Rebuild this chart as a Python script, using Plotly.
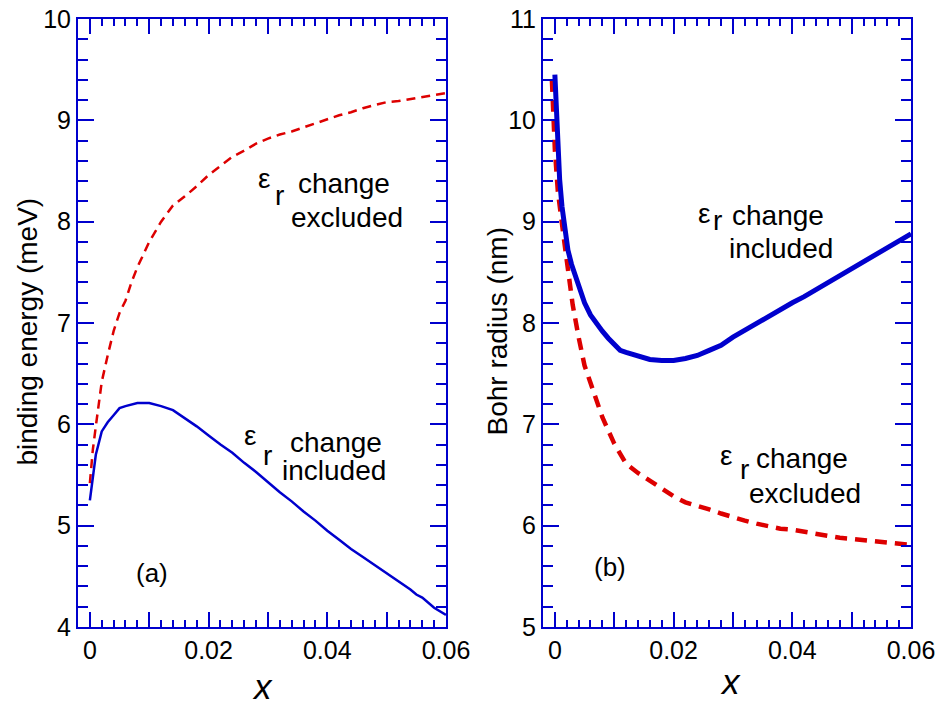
import plotly.graph_objects as go

# ---------------- data ----------------
# panel (a): binding energy (meV) vs x
a_incl_x = [0, 0.001, 0.002, 0.003, 0.004, 0.005, 0.006, 0.008, 0.010, 0.012, 0.014,
            0.016, 0.018, 0.020, 0.022, 0.024, 0.026, 0.028, 0.030, 0.032, 0.034,
            0.036, 0.038, 0.040, 0.042, 0.044, 0.046, 0.048, 0.050, 0.052, 0.054,
            0.055, 0.056, 0.058, 0.060]
a_incl_y = [5.25, 5.70, 5.93, 6.02, 6.09, 6.16, 6.18, 6.21, 6.21, 6.18, 6.14,
            6.06, 5.98, 5.89, 5.80, 5.72, 5.62, 5.53, 5.43, 5.33, 5.24,
            5.14, 5.05, 4.95, 4.86, 4.77, 4.69, 4.61, 4.53, 4.45, 4.37,
            4.32, 4.29, 4.19, 4.12]

a_excl_x = [0, 0.0005, 0.001, 0.002, 0.003, 0.004, 0.005, 0.006, 0.007, 0.008,
            0.010, 0.012, 0.014, 0.016, 0.018, 0.020, 0.022, 0.024, 0.026, 0.028,
            0.030, 0.032, 0.034, 0.036, 0.038, 0.040, 0.042, 0.044, 0.046, 0.048,
            0.050, 0.052, 0.054, 0.056, 0.058, 0.060]
a_excl_y = [5.42, 5.75, 5.98, 6.42, 6.68, 6.92, 7.10, 7.22, 7.40, 7.55,
            7.80, 8.00, 8.16, 8.25, 8.35, 8.46, 8.55, 8.64, 8.70, 8.77,
            8.82, 8.86, 8.89, 8.93, 8.97, 9.01, 9.05, 9.08, 9.12, 9.15,
            9.18, 9.19, 9.21, 9.23, 9.25, 9.27]

# panel (b): Bohr radius (nm) vs x
b_incl_x = [0, 0.0004, 0.0008, 0.0012, 0.0017, 0.0022, 0.0028, 0.0035, 0.004, 0.005,
            0.006, 0.007, 0.008, 0.009, 0.010, 0.011, 0.012, 0.014, 0.016, 0.018,
            0.020, 0.022, 0.024, 0.026, 0.028, 0.030, 0.032, 0.034, 0.036, 0.038,
            0.040, 0.042, 0.044, 0.046, 0.048, 0.050, 0.052, 0.054, 0.056, 0.058, 0.060]
b_incl_y = [10.45, 9.87, 9.42, 9.15, 8.89, 8.72, 8.58, 8.47, 8.38, 8.20,
            8.08, 7.99, 7.92, 7.85, 7.79, 7.73, 7.71, 7.67, 7.64, 7.63,
            7.63, 7.65, 7.68, 7.73, 7.78, 7.86, 7.93, 8.00, 8.07, 8.13,
            8.20, 8.26, 8.33, 8.40, 8.47, 8.53, 8.61, 8.67, 8.75, 8.81, 8.88]

b_excl_x = [-0.0005, 0, 0.0005, 0.001, 0.0015, 0.002, 0.003, 0.004, 0.005, 0.006,
            0.008, 0.010, 0.012, 0.014, 0.016, 0.018, 0.020, 0.022, 0.024, 0.026,
            0.028, 0.030, 0.032, 0.034, 0.036, 0.038, 0.040, 0.042, 0.044, 0.046,
            0.048, 0.050, 0.052, 0.054, 0.056, 0.058, 0.060]
b_excl_y = [10.40, 9.71, 9.30, 9.02, 8.84, 8.62, 8.18, 7.86, 7.58, 7.41,
            7.07, 6.81, 6.61, 6.52, 6.44, 6.36, 6.29, 6.23, 6.20, 6.16,
            6.12, 6.08, 6.05, 6.02, 5.99, 5.97, 5.96, 5.94, 5.91, 5.89,
            5.88, 5.87, 5.86, 5.85, 5.83, 5.82, 5.81]

x_tickvals = [0, 0.01, 0.02, 0.03, 0.04, 0.05, 0.06]
x_ticktext = ["0", "", "0.02", "", "0.04", "", "0.06"]
a_yticks = [4, 5, 6, 7, 8, 9, 10]
b_yticks = [5, 6, 7, 8, 9, 10, 11]

# ---------------- style ----------------
BLUE = "rgb(0,0,205)"
RED = "rgb(221,0,0)"
FONT = "Liberation Sans, Arial, Helvetica, sans-serif"
W, H = 940, 706
TOP, BOT = 19, 627  # plot area in pixels


def px(x):
    return x / W


def py(y):
    return (BOT - y) / (BOT - TOP)


fig = go.Figure()
fig.add_trace(go.Scatter(x=a_excl_x, y=a_excl_y, mode="lines", showlegend=False,
                         line=dict(color=RED, width=2.5, dash="9px,6px"),
                         xaxis="x", yaxis="y"))
fig.add_trace(go.Scatter(x=a_incl_x, y=a_incl_y, mode="lines", showlegend=False,
                         line=dict(color=BLUE, width=2.5), xaxis="x", yaxis="y"))
fig.add_trace(go.Scatter(x=b_excl_x, y=b_excl_y, mode="lines", showlegend=False,
                         line=dict(color=RED, width=4.5, dash="12px,8px"),
                         xaxis="x2", yaxis="y2"))
fig.add_trace(go.Scatter(x=b_incl_x, y=b_incl_y, mode="lines", showlegend=False,
                         line=dict(color=BLUE, width=5), xaxis="x2", yaxis="y2"))


def xaxis(domain, anchor):
    return dict(domain=domain, anchor=anchor, range=[-0.002, 0.06],
                automargin=False,
                tickmode="array", tickvals=x_tickvals, ticktext=x_ticktext,
                ticks="inside", ticklen=15, tickwidth=2, tickcolor=BLUE,
                showline=True, linecolor=BLUE, linewidth=2, mirror="ticks",
                showgrid=False, zeroline=False,
                tickfont=dict(family=FONT, size=25, color="black"),
                minor=dict(ticks="inside", tick0=0, dtick=0.002, ticklen=7,
                           tickwidth=2, tickcolor=BLUE, showgrid=False))


def yaxis(rng, vals, anchor):
    return dict(domain=[0, 1], anchor=anchor, range=rng,
                automargin=False,
                tickmode="array", tickvals=vals,
                ticks="inside", ticklen=16, tickwidth=2, tickcolor=BLUE,
                showline=True, linecolor=BLUE, linewidth=2, mirror="ticks",
                showgrid=False, zeroline=False,
                tickfont=dict(family=FONT, size=25, color="black"),
                minor=dict(ticks="inside", tick0=0, dtick=0.2, ticklen=10,
                           tickwidth=2, tickcolor=BLUE, showgrid=False))


fig.update_layout(
    width=W, height=H,
    margin=dict(l=0, r=0, t=TOP, b=H - BOT, pad=0, autoexpand=False),
    paper_bgcolor="white", plot_bgcolor="white",
    font=dict(family=FONT, color="black"),
    xaxis=xaxis([px(78), px(446)], "y"),
    yaxis=yaxis([4, 10], a_yticks, "x"),
    xaxis2=xaxis([px(543), px(911)], "y2"),
    yaxis2=yaxis([5, 11], b_yticks, "x2"),
)


def label(text, x, baseline, size=28, anchor="center", angle=0, yc=None):
    y = yc if yc is not None else baseline - 0.35 * size
    fig.add_annotation(text=text, x=px(x), y=py(y), xref="paper", yref="paper",
                       xanchor=anchor, yanchor="middle", showarrow=False,
                       textangle=angle, borderpad=0, borderwidth=0,
                       font=dict(family=FONT, size=size, color="black"))


# panel (a) labels
label("ε", 258, 188, anchor="left")
label("r", 275, 205, anchor="left")
label("change", 344, 193)
label("excluded", 347, 227)
label("ε", 244, 445, anchor="left")
label("r", 263, 465, anchor="left")
label("change", 336, 452)
label("included", 334, 480)
label("(a)", 151.5, 582, size=26)
# panel (b) labels
label("ε", 698, 223, anchor="left")
label("r", 713, 230, anchor="left")
label("change", 778, 225)
label("included", 781, 258)
label("ε", 720, 465, anchor="left")
label("r", 740, 479, anchor="left")
label("change", 802, 468)
label("excluded", 805, 503)
label("(b)", 610, 576, size=26)

# axis titles
label("binding energy (meV)", 27, None, size=28, angle=-90, yc=331.5)
label("Bohr radius (nm)", 497, None, size=28, angle=-90, yc=331.5)
label("<i>x</i>", 262, 699, size=35)
label("<i>x</i>", 730, 694, size=35)

fig.write_html("out.html",
               config={"displayModeBar": False, "staticPlot": True},
               post_script="document.body.style.margin='0';"
                           "document.body.style.overflow='hidden';")
